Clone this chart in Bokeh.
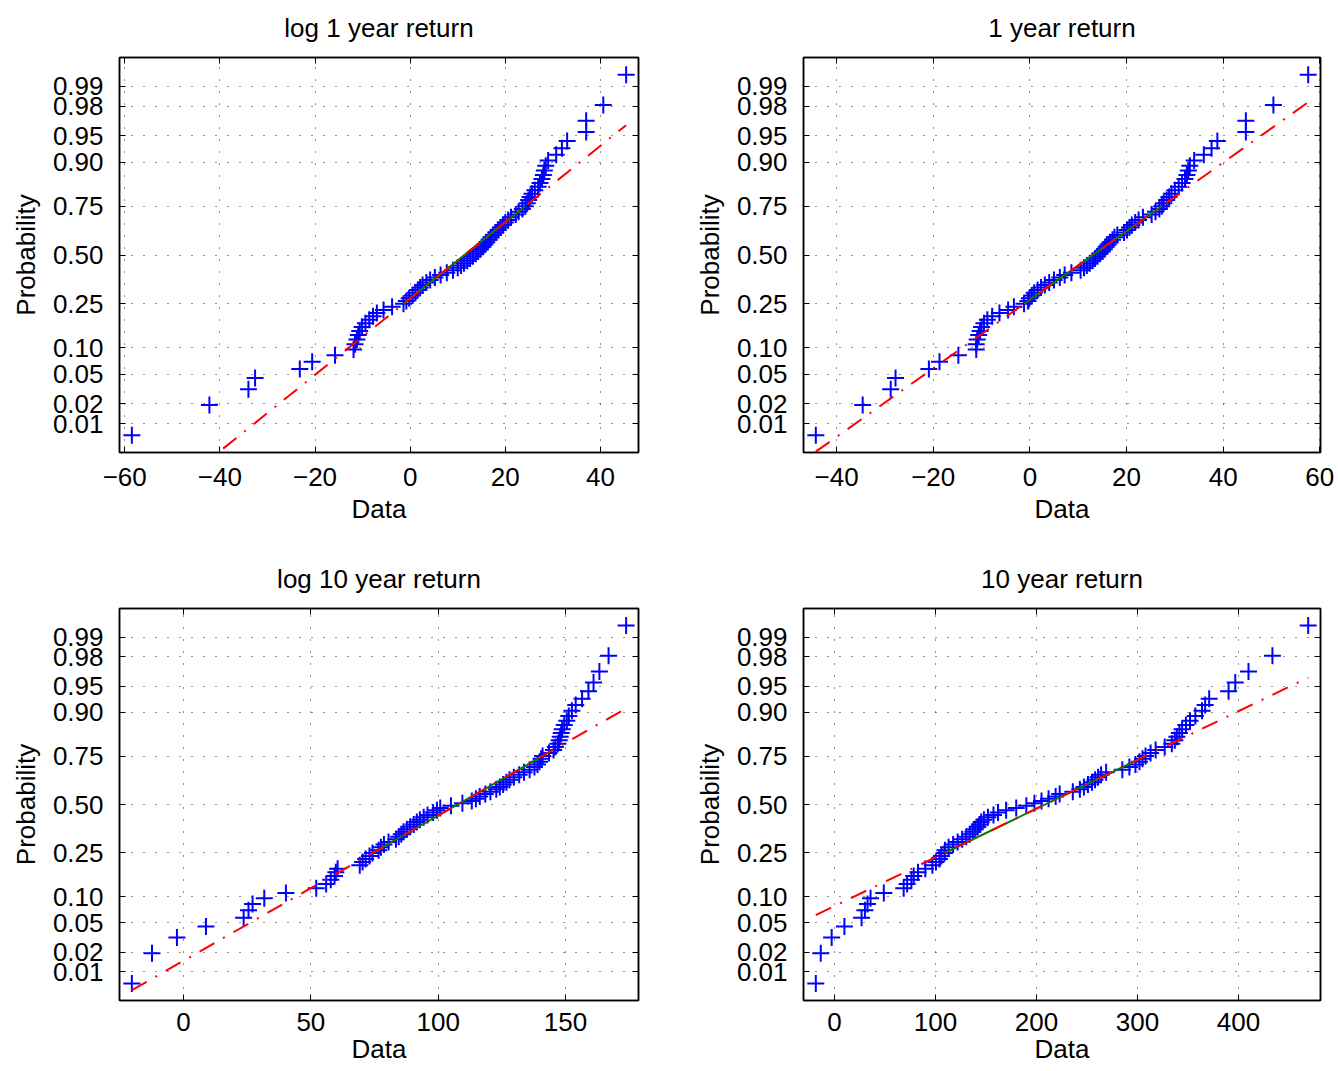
import numpy as np
from statistics import NormalDist
from bokeh.plotting import figure
from bokeh.layouts import column, row
from bokeh.models import (Range1d, FixedTicker, CustomJSTickFormatter, LinearAxis,
                          CustomLabelingPolicy)
from bokeh.embed import file_html
from bokeh.resources import INLINE

# ---------------- data (sorted values) ----------------
log_1yr = [-58.5, -42.2, -34.0, -32.6, -23.2, -20.6, -15.8, -11.9, -11.6, -11.2,
           -10.9, -10.6, -10.1, -9.4, -8.6, -7.8, -7.0, -5.6, -3.8, -1.4,
           -0.8, -0.2, 0.5, 1.1, 1.6, 2.1, 2.6, 3.4, 4.2, 5.2,
           6.4, 7.7, 9.0, 10.0, 10.7, 11.3, 12.0, 12.6, 13.2, 13.8,
           14.3, 14.8, 15.3, 15.7, 16.1, 16.6, 17.0, 17.5, 18.0, 18.5,
           19.0, 19.5, 20.0, 20.6, 21.2, 22.2, 22.8, 23.6, 24.2, 24.6,
           24.9, 25.2, 25.6, 26.2, 26.9, 27.3, 27.7, 28.0, 28.2, 28.5,
           29.0, 30.7, 31.9, 33.0, 37.0, 37.0, 40.6, 45.4]

ret_1yr = [-44.3, -34.6, -28.8, -27.8, -20.9, -18.7, -14.8, -11.1, -11.1, -10.9,
           -10.6, -10.3, -10.0, -9.5, -8.8, -7.8, -6.3, -4.5, -3.3, -1.2,
           -0.4, -0.1, 0.4, 0.9, 1.6, 2.3, 3.1, 4.0, 5.0, 6.2,
           7.2, 8.6, 10.5, 11.2, 11.8, 12.4, 13.0, 13.5, 14.0, 14.5,
           15.0, 15.4, 15.8, 16.2, 16.6, 17.1, 17.5, 18.1, 19.5, 20.1,
           20.6, 21.1, 21.8, 22.5, 23.4, 25.2, 26.0, 26.8, 27.3, 27.7,
           28.3, 28.8, 29.3, 30.0, 30.8, 31.5, 32.1, 32.5, 32.8, 33.1,
           34.0, 36.0, 37.6, 38.8, 44.7, 44.7, 50.4, 57.6]

log_10yr = [-20.3, -12.4, -2.6, 8.8, 23.6, 25.5, 27.1, 31.7, 40.2, 52.1,
            56.0, 57.8, 59.3, 59.8, 60.5, 69.2, 70.3, 71.5, 73.0, 74.2,
            76.6, 77.5, 78.7, 80.5, 83.4, 84.5, 85.5, 86.4, 87.7, 89.0,
            90.4, 91.6, 92.8, 94.3, 95.8, 98.0, 99.5, 100.8, 105.0, 109.5,
            113.2, 114.8, 116.3, 118.5, 120.5, 122.8, 124.2, 125.5, 126.8, 128.0,
            129.7, 131.8, 133.7, 135.9, 137.8, 139.0, 139.8, 140.4, 141.0, 143.5,
            145.3, 146.0, 147.0, 147.5, 147.9, 148.3, 148.7, 149.5, 150.5, 151.3,
            152.5, 154.0, 156.5, 159.0, 161.0, 163.3, 166.9, 173.8]

ret_10yr = [-18.4, -13.5, -2.7, 9.9, 26.9, 30.2, 32.8, 35.8, 48.9, 68.6,
            72.0, 76.2, 78.5, 82.8, 90.0, 97.0, 100.5, 104.0, 106.0, 109.0,
            109.5, 113.0, 117.5, 122.0, 126.5, 130.5, 134.0, 137.1, 139.5, 142.0,
            143.5, 145.3, 148.0, 152.0, 157.5, 162.0, 170.0, 180.0, 190.0, 198.0,
            205.0, 212.0, 219.0, 223.0, 236.0, 243.0, 247.0, 251.0, 255.0, 258.0,
            261.0, 264.0, 269.0, 285.0, 292.0, 298.0, 302.0, 305.0, 308.0, 313.0,
            318.0, 327.0, 334.0, 337.0, 339.0, 341.5, 344.2, 348.0, 352.0, 357.3,
            363.9, 367.0, 371.0, 390.2, 396.8, 409.9, 433.6, 469.0]

titles = ["log 1 year return", "1 year return", "log 10 year return", "10 year return"]
prob_ticks = [0.01, 0.02, 0.05, 0.10, 0.25, 0.50, 0.75, 0.90, 0.95, 0.98, 0.99]
prob_labels = ["0.01", "0.02", "0.05", "0.10", "0.25", "0.50", "0.75", "0.90", "0.95", "0.98", "0.99"]
xticks_log1 = [-60, -40, -20, 0, 20, 40]
xticks_ret1 = [-40, -20, 0, 20, 40, 60]
xticks_log10 = [0, 50, 100, 150]
xticks_ret10 = [0, 100, 200, 300, 400]

FONT = "Liberation Sans"
FS = "26px"
nd = NormalDist()
zticks = [nd.inv_cdf(v) for v in prob_ticks]

minus_fmt_code = "return tick < 0 ? '\u2212' + Math.abs(tick) : String(tick);"
prob_fmt_code = """
let best = 0;
for (let i = 0; i < t.length; i++) { if (Math.abs(t[i] - tick) < Math.abs(t[best] - tick)) best = i; }
return l[best];
"""


def box_axis(ticks):
    # tick marks only, on the top / right side of the box
    return LinearAxis(ticker=FixedTicker(ticks=ticks),
                      major_label_policy=CustomLabelingPolicy(code="return new Set()"),
                      major_label_text_font_size="1px",
                      major_label_standoff=0, major_tick_in=6, major_tick_out=0,
                      minor_tick_in=0, minor_tick_out=0,
                      axis_line_color="black", axis_line_width=1.5)


def make(data, title, xticks, left, right, top, bottom, pw, ph, xst, xls):
    x = np.sort(np.array(data, dtype=float))
    n = len(x)
    pp = (np.arange(1, n + 1) - 0.5) / n
    z = np.array([nd.inv_cdf(v) for v in pp])
    q1 = float(np.interp(0.25, pp, x))
    q3 = float(np.interp(0.75, pp, x))
    z1, z3 = nd.inv_cdf(0.25), nd.inv_cdf(0.75)
    slope = (z3 - z1) / (q3 - q1)
    xmin, xmax = float(x.min()), float(x.max())
    rng = xmax - xmin

    p = figure(width=left + pw + right, height=top + ph + bottom,
               x_range=Range1d(xmin - 0.025 * rng, xmax + 0.025 * rng),
               y_range=Range1d(nd.inv_cdf(0.25 / n), nd.inv_cdf(1 - 0.25 / n)),
               output_backend="svg", toolbar_location=None, title=title,
               min_border_left=left, min_border_right=right,
               min_border_top=top, min_border_bottom=bottom)
    p.background_fill_color = "white"
    p.border_fill_color = "white"
    p.outline_line_color = "black"
    p.outline_line_width = 1.5
    p.outline_line_alpha = 1

    p.title.text_font = FONT
    p.title.text_font_size = FS
    p.title.text_font_style = "normal"
    p.title.text_color = "black"
    p.title.align = "center"
    p.title.standoff = 21

    xa = p.below[0]
    ya = p.left[0]
    xa.ticker = FixedTicker(ticks=xticks)
    xa.formatter = CustomJSTickFormatter(code=minus_fmt_code)
    ya.ticker = FixedTicker(ticks=zticks)
    ya.formatter = CustomJSTickFormatter(args=dict(t=zticks, l=prob_labels), code=prob_fmt_code)
    xa.axis_label = "Data"
    ya.axis_label = "Probability"
    for ax, st, ls in ((xa, xst, xls), (ya, 16, 9)):
        ax.major_label_text_font = FONT
        ax.major_label_text_font_size = FS
        ax.major_label_text_color = "black"
        ax.axis_label_text_font = FONT
        ax.axis_label_text_font_size = FS
        ax.axis_label_text_font_style = "normal"
        ax.axis_label_text_color = "black"
        ax.major_label_standoff = st
        ax.axis_label_standoff = ls
        ax.major_tick_in = 6
        ax.major_tick_out = 0
        ax.minor_tick_in = 0
        ax.minor_tick_out = 0
        ax.axis_line_color = "black"
        ax.axis_line_width = 1.5
        ax.major_tick_line_color = "black"
        ax.major_tick_line_width = 1

    p.add_layout(box_axis(zticks), "right")
    p.add_layout(box_axis(xticks), "above")

    p.xgrid.ticker = FixedTicker(ticks=xticks)
    p.ygrid.ticker = FixedTicker(ticks=zticks)
    for g in (p.xgrid, p.ygrid):
        g.grid_line_color = "black"
        g.grid_line_alpha = 0.85
        g.grid_line_width = 1
        g.grid_line_dash = "1 11"

    p.scatter(x, z, marker="cross", size=17, line_color="#0000FF", line_width=2)
    p.line([q1, q3], [z1, z3], line_color="#008000", line_width=2)
    p.line([xmin, xmax], [z1 + slope * (xmin - q1), z1 + slope * (xmax - q1)],
           line_color="#FF0000", line_width=2, line_dash="17 10 2 10")
    return p


PH = 396
p1 = make(log_1yr, titles[0], xticks_log1, 119, 53, 56, 99, 519, PH, 15, 5)
p2 = make(ret_1yr, titles[1], xticks_ret1, 111, 18, 56, 99, 518, PH, 15, 5)
p3 = make(log_10yr, titles[2], xticks_log10, 119, 53, 53, 70, 519, PH, 12, 0)
p4 = make(ret_10yr, titles[3], xticks_ret10, 111, 18, 53, 70, 518, PH, 12, 0)

layout = column(row(p1, p2, spacing=0), row(p3, p4, spacing=0), spacing=0)

with open("out.html", "w") as f:
    f.write(file_html(layout, INLINE))
